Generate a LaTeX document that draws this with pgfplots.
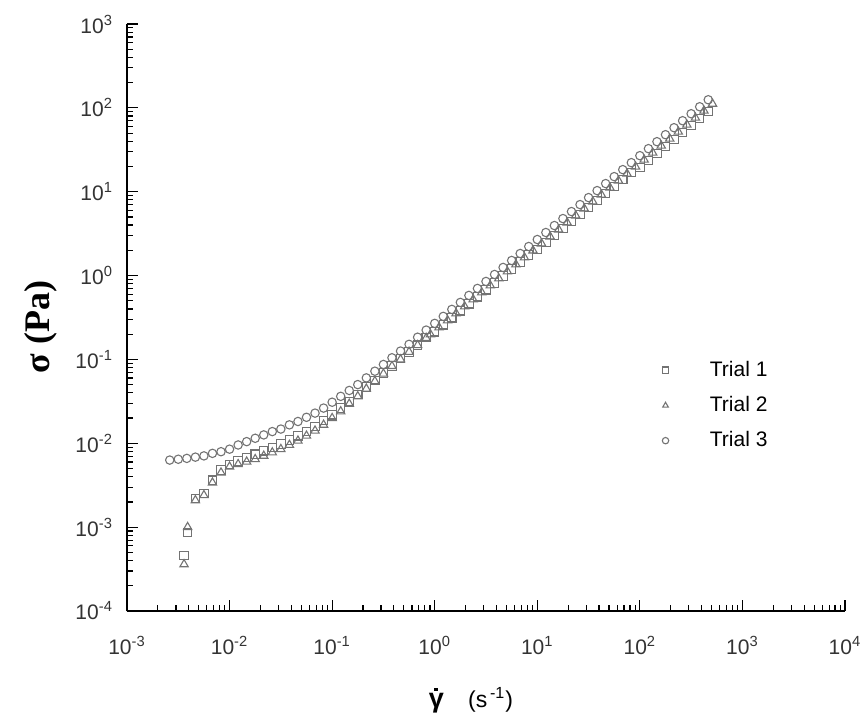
\documentclass[border=0pt]{standalone}
\usepackage{fontspec}
\setmainfont{Liberation Sans}
\newfontfamily\serifbf{Liberation Serif}
\usepackage{pgfplots}
\pgfplotsset{compat=1.18}
\definecolor{markgray}{gray}{0.45}
\newcommand{\gdot}{\leavevmode\rlap{\hspace{0.2em}\raisebox{0.6em}{\rule{1.7pt}{1.7pt}}}\textbf{γ}}
\begin{document}
\begin{tikzpicture}
\useasboundingbox (-63.5pt,-51pt) rectangle (369pt,305.5pt);
\begin{axis}[
  scale only axis, width=359pt, height=293.5pt,
  xmode=log, ymode=log,
  xmin=1e-3, xmax=1e4, ymin=1e-4, ymax=1e3,
  axis x line*=bottom, axis y line*=left,
  axis line style={-, line width=0.9pt, black},
  tick align=inside,
  major tick length=5.5pt, minor tick length=3.2pt,
  every tick/.style={black, line width=0.6pt},
  xtick={1e-3,1e-2,1e-1,1,10,100,1000,10000},
  xticklabels={10\textsuperscript{-3},10\textsuperscript{-2},10\textsuperscript{-1},10\textsuperscript{0},10\textsuperscript{1},10\textsuperscript{2},10\textsuperscript{3},10\textsuperscript{4}},
  ytick={1e-4,1e-3,1e-2,1e-1,1,10,100,1000},
  yticklabels={10\textsuperscript{-4},10\textsuperscript{-3},10\textsuperscript{-2},10\textsuperscript{-1},10\textsuperscript{0},10\textsuperscript{1},10\textsuperscript{2},10\textsuperscript{3}},
  ticklabel style={font=\fontsize{10.5}{12}\selectfont, text=black!80},
  xticklabel style={yshift=-9pt},
  yticklabel style={xshift=-3.5pt},
  every axis x label/.style={at={(axis description cs:0.479,-0.152)}, anchor=center},
  every axis y label/.style={at={(axis description cs:-0.12,0.484)}, rotate=90, anchor=center},
  xlabel={\fontsize{13.5}{16}\selectfont\gdot\hspace{0.9em}{\fontsize{11.5}{14}\selectfont(s\textsuperscript{\,-1})}},
  ylabel={\serifbf\bfseries\fontsize{18}{20}\selectfont σ (Pa)},
  legend image code/.code={\path (-2pt,0pt) (20pt,0pt); \draw[#1, mark size=1.6pt] plot coordinates {(0pt,0pt)};},
  legend style={draw=none, fill=none, font=\fontsize{10.5}{12}\selectfont, at={(0.735,0.44)}, anchor=north west, row sep=4.5pt, cells={anchor=west}},
  legend cell align=left,
]
\addplot[only marks, mark=square, mark size=2.1pt, markgray, mark options={line width=0.55pt}] coordinates {
(0.0036,0.00046) (0.0039,0.00086) (0.004642,0.002188) (0.005623,0.002512)
(0.006813,0.003631) (0.008254,0.004786) (0.01,0.005623) (0.01212,0.006166)
(0.01468,0.006761) (0.01778,0.007413) (0.02154,0.008128) (0.0261,0.008913)
(0.03162,0.009772) (0.03831,0.01096) (0.04642,0.0123) (0.05623,0.0138)
(0.06813,0.01585) (0.08254,0.01862) (0.1,0.02188) (0.1212,0.0263)
(0.1468,0.03162) (0.1778,0.03802) (0.2154,0.04677) (0.261,0.05623)
(0.3162,0.06918) (0.3831,0.08318) (0.4642,0.1023) (0.5623,0.123)
(0.6813,0.1479) (0.8254,0.182) (1,0.2138) (1.212,0.2591)
(1.468,0.3139) (1.778,0.3801) (2.154,0.4605) (2.61,0.558)
(3.162,0.676) (3.831,0.8191) (4.642,0.9925) (5.623,1.202)
(6.813,1.457) (8.254,1.765) (10,2.042) (12.12,2.475)
(14.68,2.998) (17.78,3.631) (21.54,4.398) (26.1,5.33)
(31.62,6.457) (38.31,7.823) (46.42,9.479) (56.23,11.48)
(68.13,13.91) (82.54,16.85) (100,19.5) (121.2,23.63)
(146.8,28.63) (177.8,34.67) (215.4,42) (261,50.9)
(316.2,61.66) (383.1,74.7) (464.2,90.52)
};
\addlegendentry{Trial 1}
\addplot[only marks, mark=triangle, mark size=2.4pt, markgray, mark options={line width=0.55pt}] coordinates {
(0.0036,0.00036) (0.0039,0.0010) (0.004642,0.002089) (0.005623,0.002399)
(0.006813,0.003388) (0.008254,0.004467) (0.01,0.005248) (0.01212,0.005623)
(0.01468,0.006026) (0.01778,0.006457) (0.02154,0.007079) (0.0261,0.007762)
(0.03162,0.008511) (0.03831,0.00955) (0.04642,0.01072) (0.05623,0.0123)
(0.06813,0.01413) (0.08254,0.0166) (0.1,0.01995) (0.1212,0.02399)
(0.1468,0.02951) (0.1778,0.03631) (0.2154,0.04467) (0.261,0.05495)
(0.3162,0.06761) (0.3831,0.08318) (0.4642,0.1) (0.5623,0.123)
(0.6813,0.1479) (0.8254,0.1799) (0.9085,0.1988) (1.101,0.2409)
(1.334,0.2919) (1.616,0.3536) (1.957,0.4282) (2.371,0.5188)
(2.873,0.6286) (3.481,0.7616) (4.217,0.9227) (5.109,1.118)
(6.19,1.354) (7.499,1.641) (9.085,1.988) (11.01,2.409)
(13.34,2.919) (16.16,3.536) (19.57,4.282) (23.71,5.188)
(28.73,6.286) (34.81,7.616) (42.17,9.227) (51.09,11.18)
(61.9,13.54) (74.99,16.41) (90.85,19.88) (110.1,24.09)
(133.4,29.19) (161.6,35.36) (195.7,42.82) (237.1,51.88)
(287.3,62.86) (348.1,76.16) (421.7,92.27) (510.9,111.8)
};
\addlegendentry{Trial 2}
\addplot[only marks, mark=o, mark size=2.1pt, markgray, mark options={line width=0.55pt}] coordinates {
(0.00261,0.00631) (0.003162,0.006457) (0.003831,0.006607) (0.004642,0.006839)
(0.005623,0.007079) (0.006813,0.007586) (0.008254,0.007943) (0.01,0.008511)
(0.01212,0.00955) (0.01468,0.01047) (0.01778,0.01148) (0.02154,0.01259)
(0.0261,0.0138) (0.03162,0.01479) (0.03831,0.0166) (0.04642,0.0182)
(0.05623,0.02042) (0.06813,0.02291) (0.08254,0.0263) (0.1,0.0309)
(0.1212,0.03631) (0.1468,0.04266) (0.1778,0.05012) (0.2154,0.06026)
(0.261,0.07244) (0.3162,0.0871) (0.3831,0.1047) (0.4642,0.1259)
(0.5623,0.1514) (0.6813,0.1841) (0.8254,0.2239) (1,0.2692)
(1.212,0.3263) (1.468,0.3952) (1.778,0.4786) (2.154,0.5799)
(2.61,0.7026) (3.162,0.8512) (3.831,1.031) (4.642,1.25)
(5.623,1.514) (6.813,1.834) (8.254,2.222) (10,2.692)
(12.12,3.263) (14.68,3.952) (17.78,4.786) (21.54,5.799)
(26.1,7.026) (31.62,8.512) (38.31,10.31) (46.42,12.5)
(56.23,15.14) (68.13,18.34) (82.54,22.22) (100,26.92)
(121.2,32.63) (146.8,39.52) (177.8,47.86) (215.4,57.99)
(261,70.26) (316.2,85.12) (383.1,103.1) (464.2,125)
};
\addlegendentry{Trial 3}
\end{axis}
\end{tikzpicture}
\end{document}
